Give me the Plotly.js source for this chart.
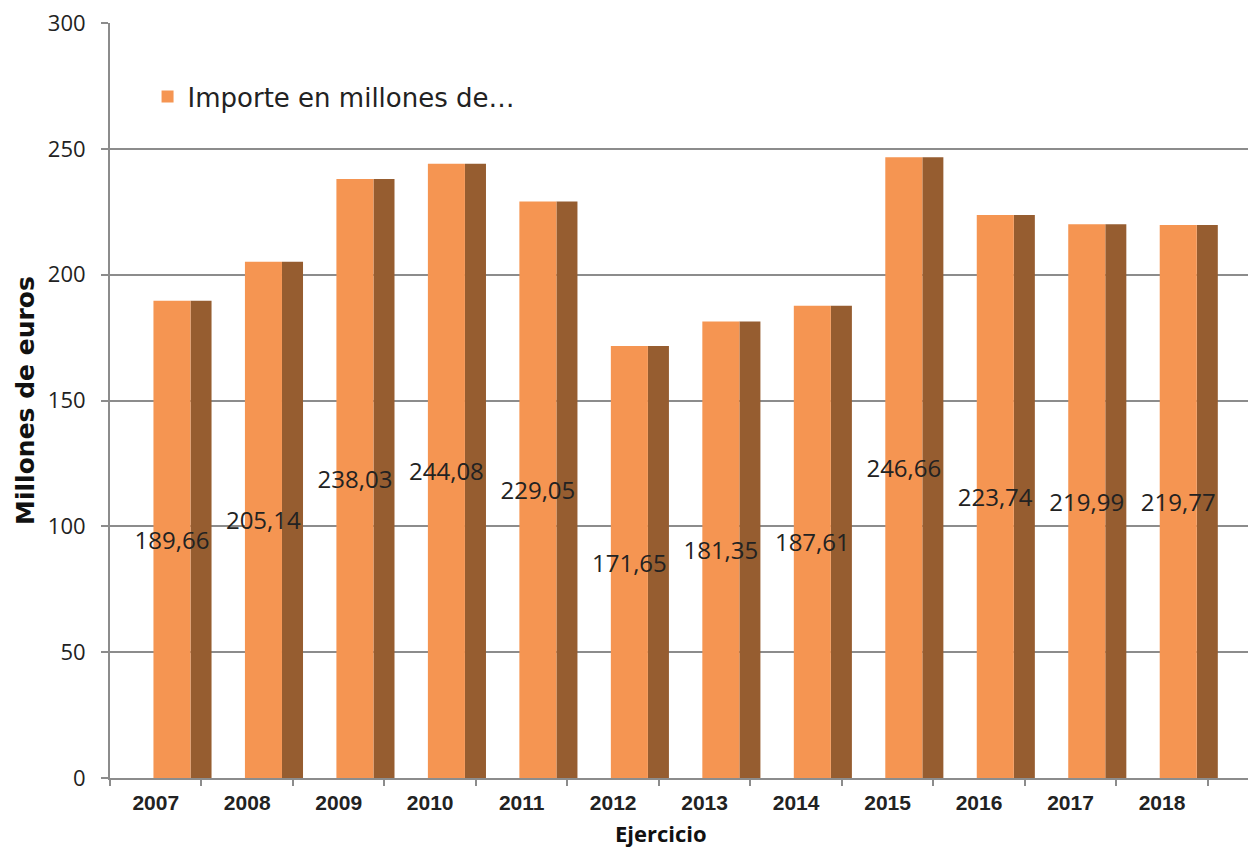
<!DOCTYPE html>
<html>
<head>
<meta charset="utf-8">
<script src="https://cdn.plot.ly/plotly-3.0.1.min.js"></script>
<style>html,body{margin:0;padding:0;background:#fff;}#chart{width:1248px;height:849px;}</style>
</head>
<body>
<div id="chart"></div>
<script>
const years = ['2007','2008','2009','2010','2011','2012','2013','2014','2015','2016','2017','2018'];
const values = [189.66, 205.14, 238.03, 244.08, 229.05, 171.65, 181.35, 187.61, 246.66, 223.74, 219.99, 219.77];
const seriesName = 'Importe en millones de…';
const yTitle = 'Millones de euros';
const xTitle = 'Ejercicio';

const labels = values.map(v => v.toFixed(2).replace('.', ','));

const side = {
  type: 'bar',
  name: seriesName,
  x: years,
  y: values,
  width: 0.23,
  offset: 0.38,
  marker: {color: '#965D30', line: {width: 0}},
  showlegend: false,
  hoverinfo: 'skip'
};
const front = {
  type: 'bar',
  name: seriesName,
  x: years,
  y: values,
  width: 0.405,
  offset: -0.025,
  marker: {color: '#F59552', line: {width: 0}},
  text: labels,
  textposition: 'inside',
  insidetextanchor: 'middle',
  textangle: 0,
  constraintext: 'none',
  cliponaxis: false,
  textfont: {family: 'Open Sans, sans-serif', size: 24, color: '#222222'},
  hoverinfo: 'x+y'
};

const layout = {
  width: 1248,
  height: 849,
  margin: {l: 110, r: 0, t: 23, b: 71},
  paper_bgcolor: '#ffffff',
  plot_bgcolor: '#ffffff',
  barmode: 'overlay',
  showlegend: true,
  legend: {
    x: 0.033, y: 0.9026, xanchor: 'left', yanchor: 'middle',
    font: {family: 'DejaVu Sans, sans-serif', size: 26, color: '#222222'},
    bgcolor: 'rgba(0,0,0,0)'
  },
  xaxis: {
    type: 'category',
    range: [-0.5, 11.94],
    tickson: 'boundaries',
    ticks: 'outside',
    ticklen: 6,
    tickwidth: 2,
    tickcolor: '#8C8C8C',
    showline: true,
    linecolor: '#8C8C8C',
    linewidth: 2,
    showgrid: false,
    tickfont: {family: 'Liberation Sans, Arial, sans-serif', size: 21, color: '#222222', weight: 'bold'},
    ticklabelstandoff: 5
  },
  yaxis: {
    range: [0, 300],
    dtick: 50,
    ticks: 'outside',
    ticklen: 7,
    tickwidth: 2,
    tickcolor: '#8C8C8C',
    showline: true,
    linecolor: '#8C8C8C',
    linewidth: 2,
    showgrid: true,
    gridcolor: '#8C8C8C',
    gridwidth: 2,
    zeroline: false,
    tickfont: {family: 'Open Sans, sans-serif', size: 22, color: '#222222'},
    ticklabelstandoff: 11,
    title: {
      text: yTitle,
      font: {family: 'DejaVu Sans, sans-serif', size: 25, color: '#111111', weight: 'bold'},
      standoff: 6
    }
  },
  annotations: [{
    text: xTitle,
    xref: 'paper', yref: 'paper',
    x: 0.484, y: -0.0735, xanchor: 'center', yanchor: 'middle',
    showarrow: false,
    font: {family: 'Open Sans, sans-serif', size: 22, color: '#111111', weight: 'bold'}
  }]
};

Plotly.newPlot('chart', [side, front], layout, {displayModeBar: false, staticPlot: true});
</script>
</body>
</html>
